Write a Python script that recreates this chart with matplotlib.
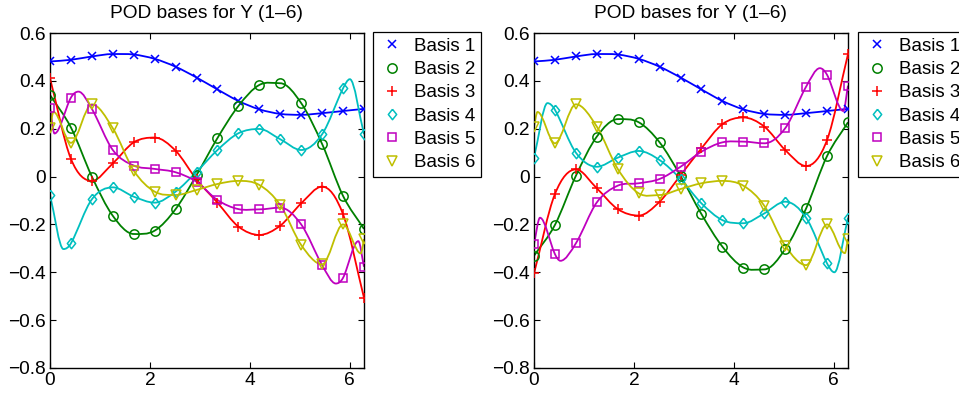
import numpy as np
import matplotlib
matplotlib.use('Agg')
import matplotlib.pyplot as plt
from matplotlib.path import Path
from matplotlib.patches import PathPatch
from matplotlib.ticker import FuncFormatter

plt.rcParams['font.family'] = ['Liberation Sans', 'DejaVu Sans']
plt.rcParams['font.size'] = 13.5

# sample locations of the POD bases on [0, 2*pi]
x_nodes = np.linspace(0, 2 * np.pi, 16)

labels = ['Basis 1', 'Basis 2', 'Basis 3', 'Basis 4', 'Basis 5', 'Basis 6']
colors = ['#0000ff', '#008000', '#ff0000', '#00bfbf', '#bf00bf', '#bfbf00']

# values of each basis at the sample locations (left run)
left_b1 = [0.481, 0.488, 0.502, 0.512, 0.510, 0.492, 0.459, 0.414,
           0.364, 0.316, 0.281, 0.262, 0.258, 0.265, 0.274, 0.283]
left_b2 = [0.341, 0.205, 0.000, -0.164, -0.240, -0.226, -0.136, 0.006,
           0.161, 0.295, 0.383, 0.390, 0.307, 0.136, -0.081, -0.219]
left_b3 = [0.411, 0.074, -0.018, 0.055, 0.143, 0.163, 0.108, -0.012,
           -0.109, -0.209, -0.244, -0.205, -0.112, -0.042, -0.158, -0.507]
left_b4 = [-0.077, -0.279, -0.095, -0.045, -0.084, -0.109, -0.063, 0.020,
           0.111, 0.181, 0.199, 0.156, 0.111, 0.177, 0.369, 0.177]
left_b5 = [0.288, 0.330, 0.283, 0.111, 0.046, 0.032, 0.018, -0.022,
           -0.098, -0.136, -0.137, -0.130, -0.200, -0.370, -0.423, -0.377]
left_b6 = [0.202, 0.141, 0.302, 0.202, 0.025, -0.063, -0.077, -0.056,
           -0.031, -0.018, -0.035, -0.119, -0.286, -0.367, -0.200, -0.261]

# values of each basis at the sample locations (right run)
right_b1 = [0.481, 0.488, 0.502, 0.512, 0.510, 0.492, 0.459, 0.414,
            0.364, 0.316, 0.281, 0.262, 0.258, 0.265, 0.274, 0.283]
right_b2 = [-0.331, -0.202, 0.003, 0.167, 0.240, 0.227, 0.143, 0.003,
            -0.157, -0.293, -0.380, -0.388, -0.303, -0.133, 0.086, 0.227]
right_b3 = [-0.405, -0.073, 0.030, -0.049, -0.136, -0.163, -0.105, 0.005,
            0.118, 0.219, 0.247, 0.209, 0.111, 0.044, 0.153, 0.512]
right_b4 = [0.079, 0.279, 0.100, 0.041, 0.079, 0.107, 0.069, -0.010,
            -0.112, -0.182, -0.195, -0.154, -0.105, -0.172, -0.363, -0.172]
right_b5 = [-0.282, -0.324, -0.279, -0.108, -0.038, -0.028, -0.010, 0.041,
            0.104, 0.143, 0.146, 0.139, 0.202, 0.376, 0.425, 0.380]
right_b6 = [0.209, 0.139, 0.302, 0.209, 0.032, -0.070, -0.077, -0.052,
            -0.028, -0.018, -0.038, -0.122, -0.289, -0.370, -0.200, -0.261]

# turning points of the curves that fall between samples, as (x, y)
left_turns = [[], [], [],
              [(0.27, -0.303), (6.00, 0.407)],
              [(0.09, 0.180), (0.57, 0.355), (5.72, -0.447), (6.17, -0.270)],
              [(0.07, 0.270), (6.22, -0.321)]]
right_turns = [[], [], [],
               [(0.27, 0.307), (6.01, -0.400)],
               [(0.12, -0.172), (0.53, -0.352), (5.72, 0.453), (6.19, 0.274)],
               [(0.07, 0.270), (6.22, -0.320)]]

left_vals = [left_b1, left_b2, left_b3, left_b4, left_b5, left_b6]
right_vals = [right_b1, right_b2, right_b3, right_b4, right_b5, right_b6]

diamond = [(0, 1), (0.8, 0), (0, -1), (-0.8, 0), (0, 1)]
marker_styles = [('x', 6.0), ('o', 6.7), ('+', 7.0), (diamond, 7.5),
                 ('s', 6.2), ('v', 7.0)]


def smooth_path(xs, ys):
    """Bezier path through the points, flat at local extrema."""
    xs = np.asarray(xs, float)
    ys = np.asarray(ys, float)
    n = len(xs)
    m = np.zeros(n)
    m[0] = (ys[1] - ys[0]) / (xs[1] - xs[0])
    m[-1] = (ys[-1] - ys[-2]) / (xs[-1] - xs[-2])
    for i in range(1, n - 1):
        if (ys[i] - ys[i - 1]) * (ys[i + 1] - ys[i]) <= 0:
            m[i] = 0.0
        else:
            m[i] = (ys[i + 1] - ys[i - 1]) / (xs[i + 1] - xs[i - 1])
    verts = [(xs[0], ys[0])]
    codes = [Path.MOVETO]
    for i in range(n - 1):
        h = xs[i + 1] - xs[i]
        verts += [(xs[i] + h / 3, ys[i] + m[i] * h / 3),
                  (xs[i + 1] - h / 3, ys[i + 1] - m[i + 1] * h / 3),
                  (xs[i + 1], ys[i + 1])]
        codes += [Path.CURVE4] * 3
    return Path(verts, codes)


def tick_fmt(v, _):
    s = '%g' % round(v, 6)
    if s == '-0':
        s = '0'
    return s.replace('-', '\u2212')


fig = plt.figure(figsize=(9.59, 3.94), dpi=100)
ax_l = fig.add_axes([50 / 959, 26 / 394, 314 / 959, 335 / 394])
ax_r = fig.add_axes([534 / 959, 26 / 394, 314 / 959, 335 / 394])

for ax, vals, turns, leg_x in [(ax_l, left_vals, left_turns, 373),
                               (ax_r, right_vals, right_turns, 858)]:
    for k in range(6):
        pts = sorted(list(zip(x_nodes, vals[k])) + turns[k])
        px, py = zip(*pts)
        ax.add_patch(PathPatch(smooth_path(px, py), facecolor='none',
                               edgecolor=colors[k], lw=1.3, zorder=2))
    for k in range(6):
        mk, ms = marker_styles[k]
        ax.plot(x_nodes, vals[k], ls='none', marker=mk, ms=ms,
                mfc='none', mec=colors[k], mew=1.1, label=labels[k], zorder=3)

    ax.set_xlim(0, 2 * np.pi)
    ax.set_ylim(-0.8, 0.6)
    ax.set_xticks([0, 2, 4, 6])
    ax.set_yticks(np.arange(-0.8, 0.61, 0.2))
    ax.xaxis.set_major_formatter(FuncFormatter(tick_fmt))
    ax.yaxis.set_major_formatter(FuncFormatter(tick_fmt))
    ax.tick_params(direction='in', top=True, right=True, length=4,
                   width=0.8, pad=3, labelsize=13.8)
    for sp in ax.spines.values():
        sp.set_linewidth(1.0)
    ax.set_title('POD bases for Y (1\u20136)', fontsize=13.8, pad=11)

    ax.legend(loc='upper left', bbox_to_anchor=(leg_x / 959, 1 - 32 / 394),
              bbox_transform=fig.transFigure, borderaxespad=0,
              fancybox=False, framealpha=1, edgecolor='black',
              handlelength=1.45, handletextpad=0.45, labelspacing=0.33,
              borderpad=0.3, fontsize=13.5)
    ax.get_legend().get_frame().set_linewidth(0.9)

fig.savefig('out.png', dpi=100)
